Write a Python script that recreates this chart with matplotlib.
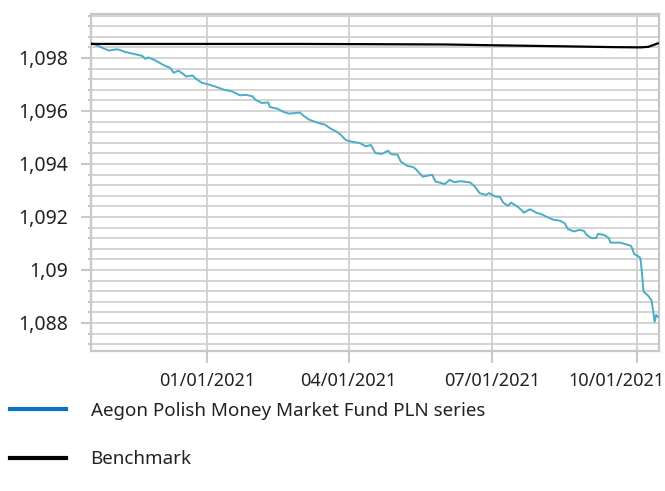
import matplotlib
matplotlib.use("Agg")
import matplotlib.pyplot as plt
import matplotlib.dates as mdates
import matplotlib.transforms as mtransforms
from matplotlib.ticker import MultipleLocator, FuncFormatter
from matplotlib.lines import Line2D
import pandas as pd

# ---------------- data ----------------
fund_dates = [
    "2020-10-19", "2020-10-24", "2020-10-28", "2020-10-31", "2020-11-05", "2020-11-07",
    "2020-11-10", "2020-11-16", "2020-11-21", "2020-11-23", "2020-11-25", "2020-11-29",
    "2020-12-05", "2020-12-09", "2020-12-11", "2020-12-14", "2020-12-17", "2020-12-19",
    "2020-12-23", "2020-12-25", "2020-12-27", "2020-12-29", "2021-01-01", "2021-01-06",
    "2021-01-12", "2021-01-17", "2021-01-22", "2021-01-26", "2021-01-30", "2021-02-01",
    "2021-02-05", "2021-02-09", "2021-02-10", "2021-02-15", "2021-02-18", "2021-02-22",
    "2021-02-26", "2021-03-01", "2021-03-04", "2021-03-07", "2021-03-11", "2021-03-17",
    "2021-03-21", "2021-03-24", "2021-03-27", "2021-03-30", "2021-04-02", "2021-04-08",
    "2021-04-12", "2021-04-15", "2021-04-18", "2021-04-22", "2021-04-26", "2021-04-28",
    "2021-05-02", "2021-05-04", "2021-05-08", "2021-05-12", "2021-05-14", "2021-05-18",
    "2021-05-24", "2021-05-26", "2021-06-01", "2021-06-04", "2021-06-07", "2021-06-11",
    "2021-06-17", "2021-06-20", "2021-06-23", "2021-06-27", "2021-06-29", "2021-07-03",
    "2021-07-06", "2021-07-08", "2021-07-11", "2021-07-13", "2021-07-17", "2021-07-20",
    "2021-07-21", "2021-07-25", "2021-07-29", "2021-08-01", "2021-08-05", "2021-08-09",
    "2021-08-13", "2021-08-16", "2021-08-18", "2021-08-22", "2021-08-25", "2021-08-28",
    "2021-08-30", "2021-09-02", "2021-09-05", "2021-09-06", "2021-09-10", "2021-09-13",
    "2021-09-14", "2021-09-20", "2021-09-23", "2021-09-27", "2021-09-28", "2021-09-29",
    "2021-10-02", "2021-10-03", "2021-10-04", "2021-10-05", "2021-10-08", "2021-10-10",
    "2021-10-11", "2021-10-12", "2021-10-13", "2021-10-14",
]
fund_values = [
    1.09858, 1.09846, 1.09835, 1.09828, 1.09833, 1.09830,
    1.09823, 1.09815, 1.09808, 1.09797, 1.09802, 1.09792,
    1.09772, 1.09762, 1.09744, 1.09752, 1.09740, 1.09730,
    1.09734, 1.09722, 1.09714, 1.09706, 1.09702, 1.09693,
    1.09680, 1.09674, 1.09659, 1.09661, 1.09655, 1.09642,
    1.09630, 1.09632, 1.09615, 1.09608, 1.09598, 1.09590,
    1.09592, 1.09594, 1.09579, 1.09567, 1.09558, 1.09548,
    1.09532, 1.09523, 1.09510, 1.09491, 1.09485, 1.09479,
    1.09466, 1.09472, 1.09441, 1.09438, 1.09450, 1.09437,
    1.09435, 1.09409, 1.09393, 1.09388, 1.09378, 1.09352,
    1.09359, 1.09334, 1.09324, 1.09340, 1.09331, 1.09335,
    1.09330, 1.09315, 1.09290, 1.09283, 1.09290, 1.09277,
    1.09275, 1.09254, 1.09242, 1.09254, 1.09239, 1.09224,
    1.09216, 1.09229, 1.09216, 1.09211, 1.09199, 1.09189,
    1.09186, 1.09176, 1.09154, 1.09145, 1.09151, 1.09148,
    1.09132, 1.09120, 1.09120, 1.09136, 1.09132, 1.09120,
    1.09103, 1.09103, 1.09098, 1.09091, 1.09078, 1.09060,
    1.09050, 1.09044, 1.08987, 1.08918, 1.08902, 1.08886,
    1.08849, 1.08804, 1.08830, 1.08823,
]

bench_dates = ["2020-10-19", "2021-03-01", "2021-06-01", "2021-07-01", "2021-08-15",
               "2021-09-15", "2021-10-03", "2021-10-08", "2021-10-14"]
bench_values = [1.09853, 1.09853, 1.09851, 1.09848, 1.09844,
                1.09841, 1.09840, 1.09842, 1.09855]

series_labels = ["Aegon Polish Money Market Fund PLN series", "Benchmark"]

# ---------------- figure ----------------
fund_color = "#4BACC6"
legend_blue = "#0A72C0"
grid_color = "#D0D0D0"
frame_color = "#C8C8C8"
text_color = "#222222"
tick_font = ["Noto Sans", "DejaVu Sans"]
legend_font = ["Noto Sans", "DejaVu Sans"]

fig = plt.figure(figsize=(6.65, 4.91), dpi=100)
ax = fig.add_axes([0.1364, 0.2857, 0.8541, 0.6858])

fd = pd.to_datetime(fund_dates)
bd = pd.to_datetime(bench_dates)

ax.plot(fd, fund_values, color=fund_color, lw=1.4, zorder=3)
ax.plot(bd, bench_values, color="black", lw=1.6, zorder=4)

ax.set_xlim(pd.Timestamp("2020-10-19 10:00"), pd.Timestamp("2021-10-14 14:00"))
ax.set_ylim(1.08695, 1.09966)

ax.yaxis.set_major_locator(MultipleLocator(0.002))
ax.yaxis.set_minor_locator(MultipleLocator(0.0004))
ax.yaxis.set_major_formatter(FuncFormatter(lambda v, p: ("%g" % round(v, 4)).replace(".", ",")))

ax.xaxis.set_major_locator(mdates.MonthLocator(bymonth=[1, 4, 7, 10], bymonthday=1))
ax.xaxis.set_major_formatter(mdates.DateFormatter("%m/%d/%Y"))

ax.grid(True, which="major", axis="x", color=grid_color, lw=1.3)
ax.grid(True, which="both", axis="y", color=grid_color, lw=1.3)
ax.set_axisbelow(True)

for s in ax.spines.values():
    s.set_color(frame_color)
    s.set_linewidth(1.6)

ax.tick_params(axis="y", which="major", length=7.5, width=1.5, color=frame_color,
               pad=9, labelsize=14, labelcolor=text_color)
ax.tick_params(axis="y", which="minor", length=2.5, width=1.5, color=frame_color)
ax.tick_params(axis="x", which="major", length=8.5, width=1.5, color=frame_color,
               pad=7, labelsize=13, labelcolor=text_color)

fig.canvas.draw()
xlabels = ax.get_xticklabels()
for lab in xlabels + ax.get_yticklabels():
    lab.set_family(tick_font)
# last date label is pulled left so it stays inside the figure (as in the reference)
shift = mtransforms.ScaledTranslation(-0.21, 0, fig.dpi_scale_trans)
xlabels[-1].set_transform(xlabels[-1].get_transform() + shift)

# ---------------- legend ----------------
handles = [Line2D([], [], color=legend_blue, lw=3),
           Line2D([], [], color="black", lw=3)]
leg = fig.legend(handles, series_labels, loc="upper left",
                 bbox_to_anchor=(0.007, 0.193), frameon=False,
                 prop={"family": legend_font, "size": 13.5},
                 handlelength=2.95, handletextpad=1.33, labelspacing=1.62,
                 borderpad=0.3, borderaxespad=0.0)
for t in leg.get_texts():
    t.set_color(text_color)

fig.savefig("out.png", dpi=100)
